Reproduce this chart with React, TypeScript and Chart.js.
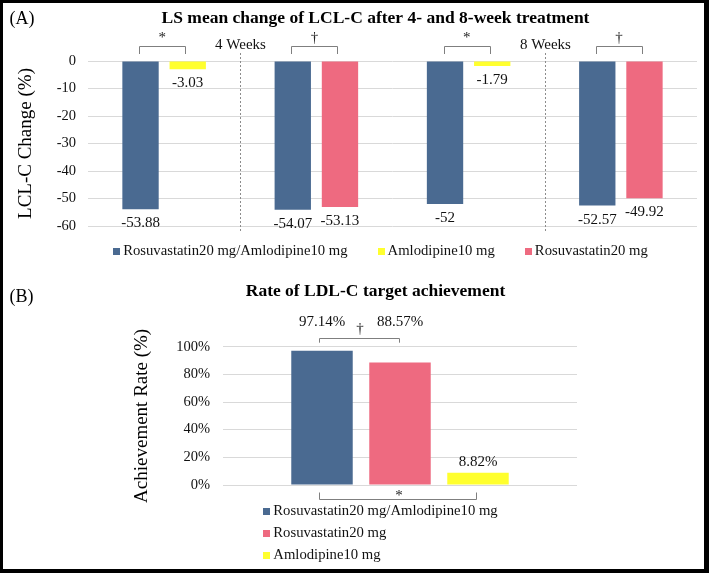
import React, { useEffect, useRef } from 'react';
import { Chart, registerables } from 'chart.js';

Chart.register(...registerables);

const FONT = '"Liberation Serif", "Times New Roman", Times, serif';

// ---------- Series names ----------
const seriesCombo = 'Rosuvastatin20 mg/Amlodipine10 mg';
const seriesAmlo = 'Amlodipine10 mg';
const seriesRosu = 'Rosuvastatin20 mg';

// ---------- Panel A data ----------
const titleA = 'LS mean change of LCL-C after 4- and 8-week treatment';
const yTitleA = 'LCL-C Change (%)';
const comparisonsA = [
  '4 Weeks: combination vs amlodipine',
  '4 Weeks: combination vs rosuvastatin',
  '8 Weeks: combination vs amlodipine',
  '8 Weeks: combination vs rosuvastatin',
];
const weekLabelsA = ['4 Weeks', '8 Weeks'];
const comboChangeA = [-53.88, -54.07, -52, -52.57];
const amloChangeA = [-3.03, null, -1.79, null];
const rosuChangeA = [null, -53.13, null, -49.92];
const significanceA = ['*', '†', '*', '†'];
const yMinA = -60;
const yMaxA = 0;
const yStepA = 10;

// ---------- Panel B data ----------
const titleB = 'Rate of LDL-C target achievement';
const yTitleB = 'Achievement Rate (%)';
const categoryB = ['LDL-C target achievement'];
const comboRateB = [97.14];
const rosuRateB = [88.57];
const amloRateB = [8.82];
const topSignificanceB = '†'; // combination vs rosuvastatin
const bottomSignificanceB = '*'; // combination vs amlodipine
const yMinB = 0;
const yMaxB = 100;
const yStepB = 20;

// ---------- Styles ----------
const BLUE = '#4A6A91';
const PINK = '#EE6A80';
const YELLOW = '#FFFF2E';
const GRID = '#d9d9d9';
const BRACKET = '#7f7f7f';
const TEXT = '#111';
const LEGEND_SHIFT = 5;

const font = (size: number, bold = false) => `${bold ? 'bold ' : ''}${size}px ${FONT}`;

function drawBracket(ctx: CanvasRenderingContext2D, x1: number, x2: number, yLine: number, yLeg: number) {
  const a = Math.round(x1) + 0.5;
  const b = Math.round(x2) + 0.5;
  const yl = Math.round(yLine) + 0.5;
  ctx.save();
  ctx.strokeStyle = BRACKET;
  ctx.lineWidth = 1;
  ctx.beginPath();
  ctx.moveTo(a, yLeg);
  ctx.lineTo(a, yl);
  ctx.lineTo(b, yl);
  ctx.lineTo(b, yLeg);
  ctx.stroke();
  ctx.restore();
}

type LegendItem = { text: string; color: string };

function drawLegend(
  ctx: CanvasRenderingContext2D,
  items: LegendItem[],
  centerX: number,
  y: number,
  mode: 'row' | 'column',
  rowStep: number
) {
  ctx.save();
  ctx.font = font(14.7);
  ctx.textBaseline = 'middle';
  ctx.textAlign = 'left';
  const box = 7;
  const gap = 10;
  const itemGap = 30;
  const widths = items.map((it) => gap + ctx.measureText(it.text).width);
  if (mode === 'row') {
    const total = widths.reduce((s, w) => s + w, 0) + itemGap * (items.length - 1);
    let x = centerX - total / 2;
    items.forEach((it, i) => {
      ctx.fillStyle = it.color;
      ctx.fillRect(Math.round(x), Math.round(y - box / 2), box, box);
      ctx.fillStyle = TEXT;
      ctx.fillText(it.text, x + gap, y);
      x += widths[i] + itemGap;
    });
  } else {
    const total = Math.max(...widths);
    const x = centerX - total / 2;
    items.forEach((it, i) => {
      const yy = y + i * rowStep;
      ctx.fillStyle = it.color;
      ctx.fillRect(Math.round(x), Math.round(yy - box / 2), box, box);
      ctx.fillStyle = TEXT;
      ctx.fillText(it.text, x + gap, yy);
    });
  }
  ctx.restore();
}

function legendItems(chart: any): LegendItem[] {
  return chart.data.datasets.map((d: any) => ({ text: d.label, color: d.backgroundColor }));
}

function titleCenter(chart: any) {
  const t = chart.titleBlock;
  return (t.left + t.right) / 2;
}

const annotA = {
  id: 'annotA',
  afterDatasetsDraw(chart: any) {
    const { ctx, chartArea: ca, scales } = chart;
    const x = scales.x;
    ctx.save();
    // panel letter
    ctx.fillStyle = '#000';
    ctx.font = font(18);
    ctx.textAlign = 'left';
    ctx.textBaseline = 'alphabetic';
    ctx.fillText('(A)', 9.5, 24);

    // week separators and labels
    weekLabelsA.forEach((w, k) => {
      const xs = Math.round(x.getPixelForValue(2 * k + 0.5)) + 0.5;
      ctx.save();
      ctx.strokeStyle = '#8c8c8c';
      ctx.lineWidth = 1;
      ctx.setLineDash([2, 2]);
      ctx.beginPath();
      ctx.moveTo(xs, ca.top - 8);
      ctx.lineTo(xs, ca.bottom + 7);
      ctx.stroke();
      ctx.restore();
      ctx.fillStyle = TEXT;
      ctx.font = font(15);
      ctx.textAlign = 'center';
      ctx.textBaseline = 'alphabetic';
      ctx.fillText(w, xs, ca.top - 12);
    });

    // brackets with significance marks
    comparisonsA.forEach((_, i) => {
      const xsPos: number[] = [];
      chart.data.datasets.forEach((d: any, di: number) => {
        if (d.data[i] !== null && d.data[i] !== undefined) {
          xsPos.push(chart.getDatasetMeta(di).data[i].x);
        }
      });
      if (xsPos.length < 2) return;
      const x1 = Math.min(...xsPos);
      const x2 = Math.max(...xsPos);
      drawBracket(ctx, x1 - 1.5, x2 - 2.5, ca.top - 15.5, ca.top - 7);
      ctx.fillStyle = '#222';
      ctx.font = font(15);
      ctx.textAlign = 'center';
      ctx.textBaseline = 'alphabetic';
      ctx.fillText(significanceA[i], (x1 + x2) / 2 - 2, ca.top - 19.5);
    });

    // value labels under the bar ends
    ctx.fillStyle = TEXT;
    ctx.font = font(15);
    ctx.textAlign = 'center';
    ctx.textBaseline = 'middle';
    chart.data.datasets.forEach((d: any, di: number) => {
      const meta = chart.getDatasetMeta(di);
      d.data.forEach((v: number | null, i: number) => {
        if (v === null || v === undefined) return;
        const el = meta.data[i];
        ctx.fillText(String(v), el.x, el.y + 14);
      });
    });

    // legend
    drawLegend(ctx, legendItems(chart), titleCenter(chart) + LEGEND_SHIFT, ca.bottom + 25, 'row', 0);
    ctx.restore();
  },
};

const annotB = {
  id: 'annotB',
  afterDatasetsDraw(chart: any) {
    const { ctx, chartArea: ca } = chart;
    ctx.save();
    ctx.fillStyle = '#000';
    ctx.font = font(18);
    ctx.textAlign = 'left';
    ctx.textBaseline = 'alphabetic';
    ctx.fillText('(B)', 9.5, 33.5);

    const bar = (di: number) => chart.getDatasetMeta(di).data[0];
    const combo = bar(0);
    const rosu = bar(1);
    const amlo = bar(2);

    // top bracket: combination vs rosuvastatin
    const topLine = ca.top - 9;
    drawBracket(ctx, combo.x - 3, rosu.x - 1.5, topLine, ca.top - 4);
    ctx.fillStyle = '#222';
    ctx.font = font(15);
    ctx.textAlign = 'center';
    ctx.textBaseline = 'alphabetic';
    ctx.fillText(topSignificanceB, (combo.x + rosu.x) / 2 - 1, ca.top - 13.5);

    // bottom bracket: combination vs amlodipine
    drawBracket(ctx, combo.x - 3, amlo.x - 2, ca.bottom + 13.5, ca.bottom + 7.5);
    ctx.fillText(bottomSignificanceB, (combo.x + amlo.x) / 2 - 1, ca.bottom + 14.5);

    // value labels
    ctx.fillStyle = TEXT;
    ctx.font = font(15);
    ctx.textAlign = 'center';
    ctx.textBaseline = 'middle';
    chart.data.datasets.forEach((d: any, di: number) => {
      const el = bar(di);
      const inTopBracket = di === 0 || di === 1;
      const y = inTopBracket ? Math.min(el.y - 11, topLine - 16) : el.y - 11;
      ctx.fillText(`${d.data[0]}%`, el.x, y);
    });

    drawLegend(ctx, legendItems(chart), titleCenter(chart) + LEGEND_SHIFT, ca.bottom + 26, 'column', 22);
    ctx.restore();
  },
};

const tickFont = { family: FONT, size: 14.5 };
const axisTitleFont = { family: FONT, size: 19 };
const titleFont = { family: FONT, size: 17.5, weight: 'bold' as const };

function configA(): any {
  return {
    type: 'bar',
    data: {
      labels: comparisonsA,
      datasets: [
        { label: seriesCombo, data: comboChangeA, backgroundColor: BLUE, skipNull: true },
        { label: seriesAmlo, data: amloChangeA, backgroundColor: YELLOW, skipNull: true },
        { label: seriesRosu, data: rosuChangeA, backgroundColor: PINK, skipNull: true },
      ],
    },
    options: {
      responsive: false,
      animation: false,
      devicePixelRatio: 1,
      categoryPercentage: 0.62,
      barPercentage: 0.77,
      layout: { padding: { left: 54, right: 12, top: 0, bottom: 42 } },
      plugins: {
        legend: { display: false },
        tooltip: { enabled: false },
        title: {
          display: true,
          text: titleA,
          font: titleFont,
          color: '#000',
          padding: { top: 7.6, bottom: 32.4 },
        },
      },
      scales: {
        x: { display: false },
        y: {
          min: yMinA,
          max: yMaxA,
          ticks: { stepSize: yStepA, font: tickFont, color: TEXT, padding: 12 },
          grid: { color: GRID, lineWidth: 1, drawTicks: false },
          border: { display: false },
          title: {
            display: true,
            text: yTitleA,
            font: axisTitleFont,
            color: '#000',
            padding: { top: -38.9, bottom: 0 },
          },
          afterFit: (s: any) => {
            s.width = 34;
          },
        },
      },
    },
    plugins: [annotA],
  };
}

function configB(): any {
  return {
    type: 'bar',
    data: {
      labels: categoryB,
      datasets: [
        { label: seriesCombo, data: comboRateB, backgroundColor: BLUE },
        { label: seriesRosu, data: rosuRateB, backgroundColor: PINK },
        { label: seriesAmlo, data: amloRateB, backgroundColor: YELLOW },
      ],
    },
    options: {
      responsive: false,
      animation: false,
      devicePixelRatio: 1,
      categoryPercentage: 0.661,
      barPercentage: 0.788,
      layout: { padding: { left: 174, right: 132, top: 0, bottom: 88 } },
      plugins: {
        legend: { display: false },
        tooltip: { enabled: false },
        title: {
          display: true,
          text: titleB,
          font: titleFont,
          color: '#000',
          padding: { top: 13.1, bottom: 44.6 },
        },
      },
      scales: {
        x: { display: false },
        y: {
          min: yMinB,
          max: yMaxB,
          ticks: {
            stepSize: yStepB,
            font: tickFont,
            color: TEXT,
            padding: 13,
            callback: (v: number) => `${v}%`,
          },
          grid: { color: GRID, lineWidth: 1, drawTicks: false },
          border: { display: false },
          title: {
            display: true,
            text: yTitleB,
            font: axisTitleFont,
            color: '#000',
            padding: { top: -43.4, bottom: 0 },
          },
          afterFit: (s: any) => {
            s.width = 49;
          },
        },
      },
    },
    plugins: [annotB],
  };
}

function ChartCanvas({ make, top, width, height }: { make: () => any; top: number; width: number; height: number }) {
  const ref = useRef<HTMLCanvasElement>(null);
  useEffect(() => {
    const chart = new Chart(ref.current as HTMLCanvasElement, make());
    return () => chart.destroy();
  }, [make]);
  return (
    <canvas
      ref={ref}
      width={width}
      height={height}
      style={{ position: 'absolute', left: 0, top, width, height, display: 'block' }}
    />
  );
}

export default function App() {
  return (
    <div
      style={{
        position: 'fixed',
        left: 0,
        top: 0,
        width: 709,
        height: 573,
        background: '#fff',
        overflow: 'hidden',
      }}
    >
      <ChartCanvas make={configA} top={0} width={709} height={268} />
      <ChartCanvas make={configB} top={268} width={709} height={305} />
      <div
        style={{
          position: 'absolute',
          inset: 0,
          boxSizing: 'border-box',
          borderStyle: 'solid',
          borderColor: '#000',
          borderWidth: '3px 5px 4px 3px',
          pointerEvents: 'none',
        }}
      />
    </div>
  );
}
